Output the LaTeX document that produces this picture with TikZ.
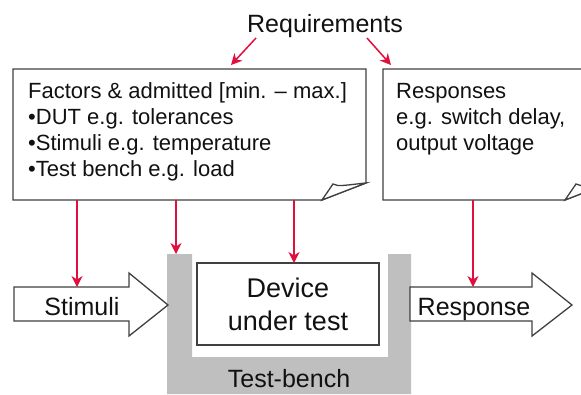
\documentclass[tikz,border=0pt]{standalone}
\usepackage{fontspec}
\setmainfont{Liberation Sans}
\usetikzlibrary{arrows.meta}
\definecolor{accent}{HTML}{E0103C}
\definecolor{bench}{HTML}{BFBFBF}
\definecolor{ink}{HTML}{404040}
\definecolor{txt}{HTML}{111111}

\begin{document}
\begin{tikzpicture}[x=1pt,y=-1pt,
  outline/.style={draw=ink, line width=1.3pt, line join=miter, fill=white},
  link/.style={draw=accent, line width=1.5pt, -{Stealth[length=11pt,width=11pt,inset=3.5pt]}},
  biglabel/.style={inner sep=0, anchor=base, text=txt, font=\fontsize{25}{30}\selectfont},
  duttext/.style={inner sep=0, anchor=base, text=txt, font=\fontsize{27}{33}\selectfont},
  noteline/.style={inner sep=0, anchor=base west, text=txt, font=\fontsize{22}{26}\selectfont},
]
\useasboundingbox (0,0) rectangle (581,394);

% test bench (grey U-shaped holder)
\fill[bench] (167,254) -- (192,254) -- (192,357) -- (388,357) -- (388,254)
  -- (411,254) -- (411,394) -- (167,394) -- cycle;
\node[biglabel] (bench) at (289,387) {Test-bench};

% device under test
\draw[outline] (197,263) rectangle (379,345);
\node[duttext] (dut1) at (288,297) {Device};
\node[duttext] (dut2) at (288,330) {under test};

% stimuli and response block arrows
\draw[outline] (14,287) -- (129,287) -- (129,273) -- (168,305) -- (129,336)
  -- (129,321) -- (14,321) -- cycle;
\node[biglabel] (stim) at (82,315) {Stimuli};
\draw[outline] (410,287) -- (532,287) -- (532,273) -- (572,305) -- (532,336)
  -- (532,321) -- (410,321) -- cycle;
\node[biglabel] (resp) at (474,315) {Response};

% factors note with folded corner
\draw[outline] (13,69) -- (366,69) -- (366,183) -- (322,200) -- (13,200) -- cycle;
\draw[outline] (322,200) -- (333,184) .. controls (338,187) and (346,185) .. (366,183) -- cycle;
\node[noteline] (f1) at (28,98) {Factors \& admitted [min. – max.]};
\node[noteline] (f2) at (28,124) {•DUT e.g. tolerances};
\node[noteline] (f3) at (28,150) {•Stimuli e.g. temperature};
\node[noteline] (f4) at (28,176) {•Test bench e.g. load};

% responses note, running off the right edge
\begin{scope}
\clip (0,0) rectangle (581,394);
\draw[outline] (383,69) -- (609,69) -- (609,183) -- (565,200) -- (383,200) -- cycle;
\draw[outline] (565,200) -- (576,184) .. controls (581,187) and (589,185) .. (609,183) -- cycle;
\end{scope}
\node[noteline] (r1) at (396,98) {Responses};
\node[noteline] (r2) at (396,124) {e.g. switch delay,};
\node[noteline] (r3) at (396,150) {output voltage};

% requirements heading
\node[biglabel] (req) at (325,32) {Requirements};

% anchor points of the red links
\coordinate (reqL) at (256,38);
\coordinate (reqR) at (367,38);
\coordinate (facTop) at (231,65);
\coordinate (respTop) at (391,65);
\coordinate (facA) at (77,200);
\coordinate (facB) at (176,200);
\coordinate (facC) at (294,200);
\coordinate (respB) at (473,200);
\coordinate (stimIn) at (77,287);
\coordinate (benchIn) at (176,254);
\coordinate (dutIn) at (294,263);
\coordinate (respIn) at (473,287);

\draw[link] (reqL) -- (facTop);
\draw[link] (reqR) -- (respTop);
\draw[link] (facA) -- (stimIn);
\draw[link] (facB) -- (benchIn);
\draw[link] (facC) -- (dutIn);
\draw[link] (respB) -- (respIn);
\end{tikzpicture}
\end{document}
